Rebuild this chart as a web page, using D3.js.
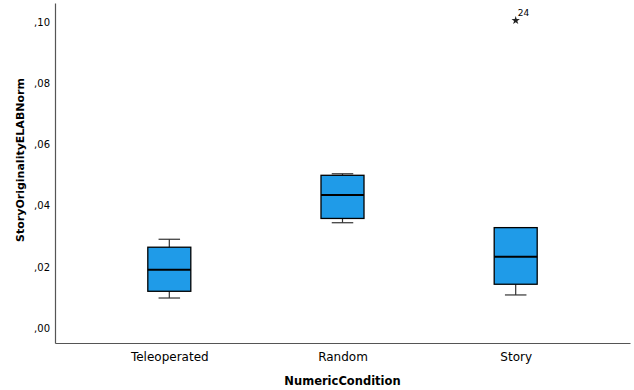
<!DOCTYPE html>
<html>
<head>
<meta charset="utf-8">
<script src="https://cdn.jsdelivr.net/npm/d3@7"></script>
<style>
  body { margin: 0; background: #fff; }
  text { font-family: "DejaVu Sans", sans-serif; fill: #000; }
</style>
</head>
<body>
<svg id="chart" width="634" height="390"></svg>
<script>
// box plot stats
var categories = ["Teleoperated", "Random", "Story"];
var whiskerLow  = [0.0098, 0.0344, 0.0108];
var q1          = [0.0120, 0.0358, 0.0143];
var median      = [0.0190, 0.0435, 0.0233];
var q3          = [0.0264, 0.0499, 0.0328];
var whiskerHigh = [0.0290, 0.0504, 0.0328];
var outliers    = [{ cat: "Story", value: 0.1005, label: "24" }];
var yTicks = [0, 0.02, 0.04, 0.06, 0.08, 0.10];

var svg = d3.select("#chart"),
    m = { top: 3, right: 4, bottom: 47, left: 55 },
    w = 634 - m.left - m.right,
    h = 390 - m.top - m.bottom;

var x = d3.scalePoint().domain(categories).range([0, w]).padding(0.66);
var y = d3.scaleLinear().domain([-0.0049, 0.1062]).range([h, 0]);

var g = svg.append("g").attr("transform", "translate(" + m.left + "," + m.top + ")");

var fmt = function(d) { return d3.format(".2f")(d).replace("0.", ","); };

// y axis
var yAxis = g.append("g").call(d3.axisLeft(y).tickValues(yTicks).tickSize(0).tickPadding(5).tickFormat(fmt));
yAxis.select(".domain").attr("stroke", "#555").attr("stroke-width", 1.2);
yAxis.selectAll("text").style("font-size", "10px").attr("fill", "#000");

// x axis
var xAxis = g.append("g").attr("transform", "translate(0," + h + ")")
    .call(d3.axisBottom(x).tickSize(0).tickPadding(9));
xAxis.select(".domain").attr("stroke", "#555").attr("stroke-width", 1.2);
xAxis.selectAll("text").style("font-size", "12px").attr("fill", "#000");

var bw = 43;
var data = categories.map(function(c, i) {
  return { cat: c, lo: whiskerLow[i], q1: q1[i], med: median[i], q3: q3[i], hi: whiskerHigh[i] };
});

var box = g.selectAll(".box").data(data).enter().append("g")
    .attr("class", "box")
    .attr("transform", function(d) { return "translate(" + x(d.cat) + ",0)"; });

box.append("line").attr("stroke", "#333").attr("stroke-width", 1.2)
    .attr("y1", function(d) { return y(d.hi); }).attr("y2", function(d) { return y(d.q3); });
box.append("line").attr("stroke", "#333").attr("stroke-width", 1.2)
    .attr("y1", function(d) { return y(d.q1); }).attr("y2", function(d) { return y(d.lo); });
box.append("line").attr("stroke", "#333").attr("stroke-width", 1.2)
    .attr("x1", -bw / 4).attr("x2", bw / 4)
    .attr("y1", function(d) { return y(d.hi); }).attr("y2", function(d) { return y(d.hi); });
box.append("line").attr("stroke", "#333").attr("stroke-width", 1.2)
    .attr("x1", -bw / 4).attr("x2", bw / 4)
    .attr("y1", function(d) { return y(d.lo); }).attr("y2", function(d) { return y(d.lo); });

box.append("rect")
    .attr("x", -bw / 2).attr("width", bw)
    .attr("y", function(d) { return y(d.q3); })
    .attr("height", function(d) { return y(d.q1) - y(d.q3); })
    .attr("fill", "#1f9be8").attr("stroke", "#000").attr("stroke-width", 1.3);

box.append("line").attr("stroke", "#000").attr("stroke-width", 2)
    .attr("x1", -bw / 2).attr("x2", bw / 2)
    .attr("y1", function(d) { return y(d.med); }).attr("y2", function(d) { return y(d.med); });

// extreme values
var out = g.selectAll(".out").data(outliers).enter().append("g")
    .attr("transform", function(d) { return "translate(" + x(d.cat) + "," + y(d.value) + ")"; });
out.append("path").attr("d", d3.symbol().type(d3.symbolStar).size(22)).attr("fill", "#222");
out.append("text").attr("x", 2).attr("y", -4).style("font-size", "9px")
    .text(function(d) { return d.label; });

// axis titles
svg.append("text")
    .attr("x", m.left + w / 2).attr("y", 385)
    .attr("text-anchor", "middle").style("font-size", "11.5px").style("font-weight", "bold")
    .text("NumericCondition");
svg.append("text")
    .attr("transform", "translate(24,160) rotate(-90)")
    .attr("text-anchor", "middle").style("font-size", "11px").style("font-weight", "bold")
    .text("StoryOriginalityELABNorm");
</script>
</body>
</html>
